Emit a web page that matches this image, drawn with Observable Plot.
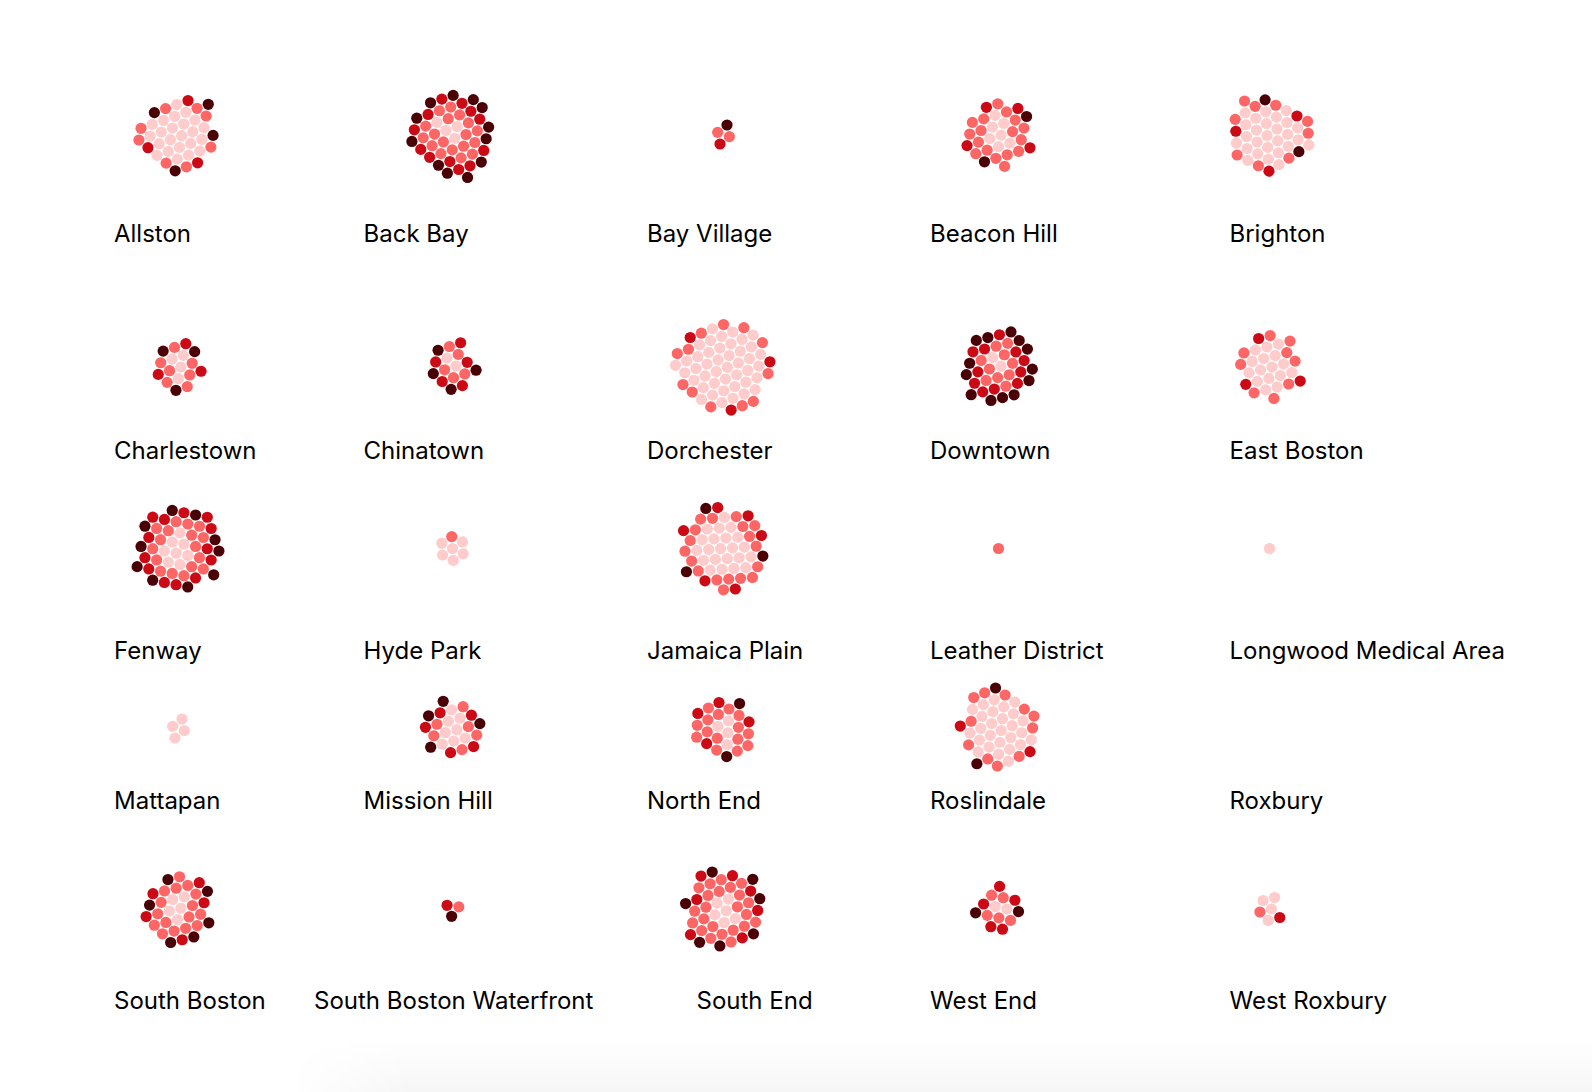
<!DOCTYPE html>
<html>
<head>
<meta charset="utf-8">
<script src="https://cdn.jsdelivr.net/npm/d3@7"></script>
<script src="https://cdn.jsdelivr.net/npm/@observablehq/plot@0.6"></script>
<style>
  html, body { margin: 0; padding: 0; background: #fff; overflow: hidden; }
  #chart { position: relative; width: 1592px; height: 1092px; font-family: Inter, "Noto Sans", sans-serif; }
  .cell-svg { position: absolute; }
  .label { position: absolute; font-size: 24px; line-height: 28px; color: #000; white-space: nowrap; }
  .shade { position: absolute; left: 290px; right: 0; top: 1040px; bottom: 0;
    background: linear-gradient(to bottom, rgba(0,0,0,0), rgba(0,0,0,0.035));
    -webkit-mask-image: linear-gradient(to right, transparent, #000 120px);
    mask-image: linear-gradient(to right, transparent, #000 120px); }
</style>
</head>
<body>
<div id="chart"><div class="shade"></div></div>
<script>
// ---- data ----
const neighborhoods = ["Allston","Back Bay","Bay Village","Beacon Hill","Brighton",
  "Charlestown","Chinatown","Dorchester","Downtown","East Boston",
  "Fenway","Hyde Park","Jamaica Plain","Leather District","Longwood Medical Area",
  "Mattapan","Mission Hill","North End","Roslindale","Roxbury",
  "South Boston","South Boston Waterfront","South End","West End","West Roxbury"];
const tiers = ["low", "mid", "high", "top"];
const lowCounts  = [23, 4, 0, 7, 27, 4, 2, 43, 2, 16, 8, 6, 22, 0, 1, 4, 8, 4, 27, 0, 5, 0, 6, 2, 4];
const midCounts  = [8, 18, 2, 17, 9, 7, 5, 12, 10, 9, 17, 1, 18, 1, 0, 0, 6, 15, 11, 0, 16, 1, 23, 5, 1];
const highCounts = [3, 12, 1, 4, 3, 3, 5, 3, 11, 3, 13, 0, 6, 0, 0, 0, 5, 4, 2, 0, 5, 1, 7, 5, 1];
const topCounts  = [4, 12, 1, 2, 2, 3, 4, 0, 13, 0, 10, 0, 3, 0, 0, 0, 4, 2, 2, 0, 6, 1, 7, 2, 0];

// ---- style / layout ----
const colors = ["#ffcbcb", "#fe6666", "#cb0a16", "#4a0004"];
const colDotX = [178, 452, 723, 998, 1269];
const colLabelX = [114, 363.5, 647, 930, 1229.5];
const rowDotY = [134, 366, 548, 728, 909];
const rowLabelY = [234, 451, 651, 801, 1001];
const labelXOverride = {"South Boston Waterfront": 314, "South End": 696.5};
const W = 200, H = 160, R = 5.6;

const chart = document.getElementById("chart");
const countsByTier = [lowCounts, midCounts, highCounts, topCounts];

neighborhoods.forEach((name, i) => {
  const col = i % 5, row = Math.floor(i / 5);
  const nodes = [];
  tiers.forEach((t, k) => {
    for (let j = 0; j < countsByTier[k][i]; j++) nodes.push({tier: t});
  });
  if (nodes.length) {
    d3.forceSimulation(nodes)
      .force("x", d3.forceX(0).strength(0.1))
      .force("y", d3.forceY(0).strength(0.1))
      .force("collide", d3.forceCollide(5.95).iterations(4))
      .stop()
      .tick(300);
  }
  const svg = Plot.plot({
    width: W, height: H, margin: 0,
    x: {domain: [-W / 2, W / 2], axis: null},
    y: {domain: [-H / 2, H / 2], axis: null},
    color: {domain: tiers, range: colors},
    marks: [Plot.dot(nodes, {x: "x", y: "y", r: R, fill: "tier"})]
  });
  svg.classList.add("cell-svg");
  svg.style.left = (colDotX[col] - W / 2) + "px";
  svg.style.top = (rowDotY[row] - H / 2) + "px";
  svg.style.background = "transparent";
  chart.appendChild(svg);

  const lab = document.createElement("div");
  lab.className = "label";
  lab.textContent = name;
  lab.style.left = (labelXOverride[name] ?? colLabelX[col]) + "px";
  lab.style.top = (rowLabelY[row] - 14) + "px";
  chart.appendChild(lab);
});
</script>
</body>
</html>
